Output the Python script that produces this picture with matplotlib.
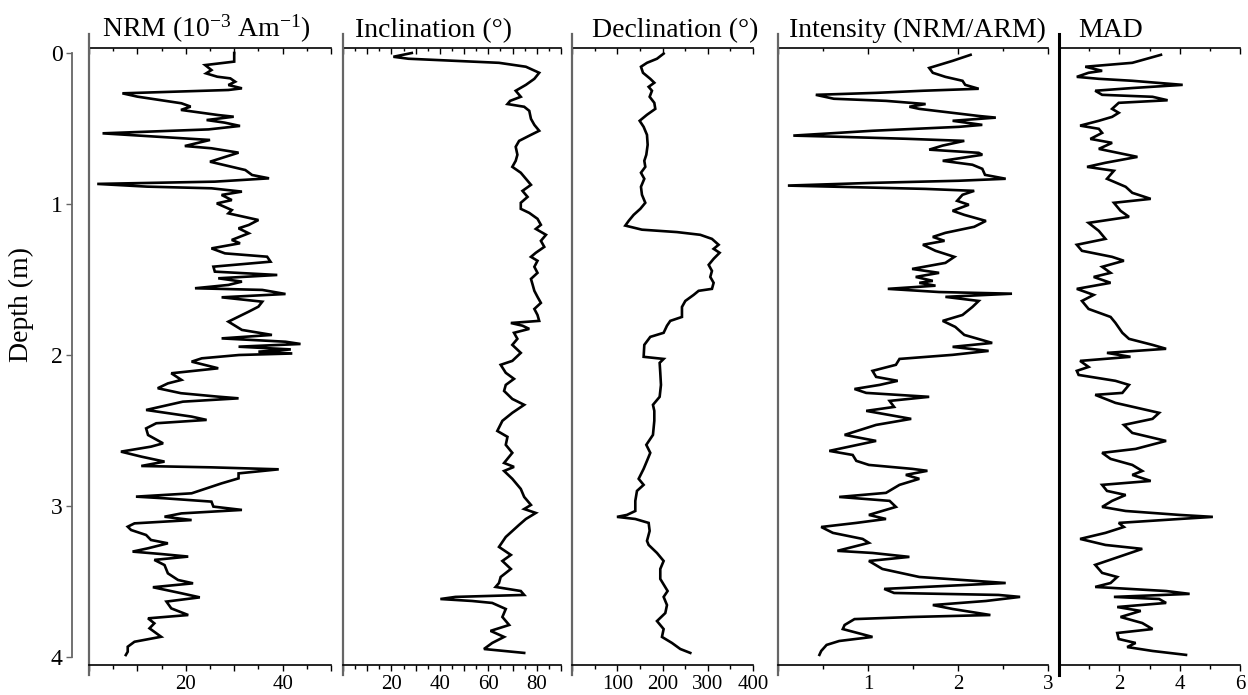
import matplotlib
matplotlib.use('Agg')
import matplotlib.pyplot as plt
from matplotlib.ticker import MultipleLocator

plt.rcParams['font.family'] = 'Liberation Serif'
plt.rcParams['mathtext.fontset'] = 'custom'
plt.rcParams['mathtext.rm'] = 'Liberation Serif'
plt.rcParams['mathtext.it'] = 'Liberation Serif:italic'

# ---- data (depth in m) ----
nrm_depth = [0.0, 0.057, 0.08, 0.113, 0.135, 0.157, 0.168, 0.19, 0.212, 0.234, 0.245, 0.267, 0.289,
             0.333, 0.355, 0.377, 0.411, 0.422, 0.444, 0.461, 0.483, 0.506, 0.532, 0.55, 0.576,
             0.616, 0.631, 0.66, 0.72, 0.775, 0.808, 0.83, 0.852, 0.867, 0.885, 0.896, 0.918,
             0.94, 0.974, 0.996, 1.04, 1.062, 1.106, 1.139, 1.161, 1.194, 1.238, 1.26, 1.294,
             1.327, 1.349, 1.382, 1.415, 1.448, 1.47, 1.492, 1.514, 1.536, 1.558, 1.569, 1.596,
             1.618, 1.647, 1.68, 1.713, 1.779, 1.834, 1.867, 1.89, 1.912, 1.927, 1.945, 1.963,
             1.978, 1.99, 2.0, 2.022, 2.044, 2.088, 2.121, 2.165, 2.188, 2.22, 2.253, 2.276,
             2.287, 2.309, 2.364, 2.408, 2.43, 2.452, 2.486, 2.53, 2.585, 2.607, 2.64, 2.673,
             2.706, 2.735, 2.744, 2.757, 2.784, 2.817, 2.85, 2.894, 2.916, 2.938, 2.949, 2.971,
             3.004, 3.026, 3.049, 3.071, 3.093, 3.115, 3.137, 3.159, 3.192, 3.225, 3.247, 3.28,
             3.302, 3.318, 3.335, 3.357, 3.391, 3.446, 3.49, 3.512, 3.538, 3.578, 3.605, 3.633,
             3.678, 3.722, 3.744, 3.777, 3.81, 3.866, 3.899, 3.932, 3.965, 3.987]
nrm = [30, 30, 24, 25.3, 24.2, 26.5, 29.2, 30.2, 28.8, 31.6, 28.8, 6.9, 10,
       19.1, 21, 19, 26.7, 29.9, 24.3, 28, 31.2, 24.7, 2.8, 12, 25,
       19.8, 25.3, 30.9, 25, 32.3, 33.7, 37.2, 26, 1.7, 12, 25.3, 31.6,
       27.4, 29.5, 26.4, 29.5, 28.8, 35, 33, 30.9, 33, 29.5, 31.2, 25.3,
       28.1, 36.8, 37.5, 25.7, 26, 38.9, 26.7, 31.6, 28.8, 21.9, 35.8, 40.6,
       27.4, 35.8, 35, 33, 28.8, 31.6, 37.8, 27.4, 40.6, 43.7, 30.9, 41.7,
       35, 42, 31, 23.3, 21.2, 26.7, 17, 19.1, 16.3, 14.2, 19, 26.7,
       30.9, 19.4, 11.8, 21.2, 24.3, 13.9, 11.8, 12.2, 15.3, 12.8, 6.6, 10.8,
       15.6, 10.8, 25.3, 39.2, 30.9, 30.9, 27.4, 23.3, 21.2, 9.7, 15.6, 25.3,
       25.7, 31.6, 19.1, 15.6, 21.2, 9.4, 8, 8.7, 11.8, 12.8, 16.3, 12.2,
       9, 14.9, 20.5, 13.5, 15.6, 16.3, 18.4, 21.5, 13.2, 19.1, 22.9, 16,
       17, 20.5, 12.2, 13.5, 12.5, 14.9, 9.4, 8, 8, 7.6]

inc_depth = [0.0, 0.025, 0.038, 0.052, 0.065, 0.091, 0.131, 0.171, 0.211, 0.25, 0.29, 0.317, 0.338,
             0.356, 0.383, 0.436, 0.476, 0.515, 0.542, 0.582, 0.621, 0.674, 0.714, 0.754, 0.793,
             0.833, 0.873, 0.913, 0.953, 0.992, 1.032, 1.059, 1.098, 1.138, 1.165, 1.204, 1.244,
             1.284, 1.323, 1.35, 1.376, 1.416, 1.456, 1.496, 1.535, 1.575, 1.615, 1.655, 1.695,
             1.735, 1.774, 1.788, 1.806, 1.827, 1.853, 1.893, 1.933, 1.986, 2.039, 2.065, 2.118,
             2.158, 2.198, 2.238, 2.291, 2.33, 2.383, 2.436, 2.503, 2.542, 2.595, 2.648, 2.715,
             2.741, 2.768, 2.82, 2.887, 2.94, 2.993, 3.02, 3.046, 3.086, 3.125, 3.205, 3.271,
             3.324, 3.364, 3.417, 3.47, 3.51, 3.536, 3.563, 3.589, 3.602, 3.616, 3.629, 3.642,
             3.682, 3.735, 3.788, 3.827, 3.867, 3.907, 3.947, 3.973]
inc = [28.4, 20.8, 27, 46.4, 64.4, 75.5, 81, 79, 75.5, 71.3, 73.4, 69, 67.9,
       74.8, 76.9, 77.6, 79, 81, 77.6, 72.7, 71.3, 72, 71.3, 69.9, 73.4,
       75.5, 77.6, 74.1, 76.2, 73.4, 73.4, 76.9, 80.3, 81.7, 79.6, 83.8, 81.7,
       83.1, 79.6, 77.6, 80.3, 79, 80.3, 77.6, 78.3, 79, 80.3, 81.7, 79,
       80.3, 81, 69.3, 74.1, 76.9, 70.6, 72, 69.9, 73.4, 69.9, 65.1, 67.2,
       70.6, 67.2, 66.5, 69.9, 74.8, 69.9, 65.8, 63.7, 67.9, 67.2, 69.9, 66.5,
       70.6, 66.5, 69.9, 73.4, 74.8, 77.6, 74.8, 79.6, 75.5, 72.7, 67.2, 64.4,
       69.3, 65.8, 69.3, 65.1, 64.4, 63, 73.4, 74.8, 46.4, 40.2, 53.3, 61.6,
       67.2, 65.8, 68.6, 60.9, 66.5, 61.6, 58.2, 74.8]

dec_depth = [0.004, 0.038, 0.065, 0.091, 0.131, 0.171, 0.197, 0.224, 0.25, 0.29, 0.33, 0.37, 0.409,
             0.449, 0.489, 0.542, 0.608, 0.674, 0.714, 0.754, 0.793, 0.833, 0.886, 0.939, 0.992,
             1.032, 1.072, 1.112, 1.143, 1.17, 1.186, 1.204, 1.231, 1.27, 1.297, 1.323, 1.363,
             1.403, 1.443, 1.483, 1.522, 1.562, 1.575, 1.602, 1.642, 1.682, 1.748, 1.774, 1.806,
             1.853, 1.88, 1.933, 2.012, 2.026, 2.052, 2.118, 2.198, 2.277, 2.33, 2.37, 2.436,
             2.529, 2.595, 2.648, 2.701, 2.754, 2.82, 2.86, 2.9, 2.966, 3.033, 3.059, 3.072,
             3.086, 3.112, 3.165, 3.231, 3.258, 3.311, 3.364, 3.417, 3.483, 3.563, 3.602, 3.656,
             3.709, 3.762, 3.815, 3.867, 3.907, 3.947, 3.973]
dec = [202.5, 187.8, 165.7, 152.4, 156.9, 173, 181.9, 169.4, 176.7, 171.6, 181.9, 184.1, 165.7,
       149.5, 158.3, 165.7, 167.2, 164.2, 159.8, 162, 152.4, 159.8, 152.4, 154.6, 162,
       151, 136.2, 125.2, 117.8, 154.6, 232, 283.5, 309.3, 324, 313, 326.2, 313,
       302, 309.3, 305.6, 313, 309.3, 279.8, 268.8, 250.4, 243, 243, 217.2, 209.9,
       202.5, 173, 159.8, 158.3, 202.5, 193.7, 195.1, 196.6, 193.7, 178.9, 181.9, 181.9,
       178.9, 164.2, 173, 165.7, 158.3, 147.3, 158.3, 143.6, 139.9, 139.9, 121.5, 99.4,
       139.9, 169.4, 171.6, 165.7, 169.4, 187.8, 202.5, 195.1, 195.1, 211.3, 202.5, 209.9,
       206.2, 187.8, 202.5, 198.8, 220.9, 239.3, 261.4]

int_depth = [0.012, 0.052, 0.099, 0.131, 0.158, 0.184, 0.211, 0.237, 0.25, 0.264, 0.277, 0.303, 0.317,
             0.338, 0.356, 0.37, 0.401, 0.417, 0.428, 0.449, 0.476, 0.489, 0.515, 0.547, 0.555,
             0.568, 0.582, 0.613, 0.64, 0.661, 0.674, 0.714, 0.74, 0.767, 0.807, 0.833, 0.846,
             0.86, 0.878, 0.886, 0.9, 0.913, 0.939, 0.979, 1.005, 1.045, 1.072, 1.112, 1.151,
             1.191, 1.218, 1.244, 1.27, 1.31, 1.35, 1.39, 1.43, 1.456, 1.483, 1.509, 1.522,
             1.541, 1.562, 1.583, 1.594, 1.615, 1.642, 1.682, 1.735, 1.774, 1.814, 1.867, 1.92,
             1.946, 1.973, 1.999, 2.026, 2.065, 2.105, 2.145, 2.171, 2.198, 2.225, 2.251, 2.277,
             2.304, 2.344, 2.37, 2.423, 2.463, 2.529, 2.569, 2.635, 2.662, 2.701, 2.728, 2.754,
             2.767, 2.794, 2.82, 2.86, 2.913, 2.94, 2.966, 3.006, 3.059, 3.086, 3.112, 3.139,
             3.178, 3.218, 3.244, 3.297, 3.311, 3.337, 3.364, 3.417, 3.47, 3.51, 3.523, 3.549,
             3.576, 3.589, 3.602, 3.629, 3.656, 3.682, 3.722, 3.735, 3.749, 3.788, 3.815, 3.867,
             3.894, 3.92, 3.96, 3.986]
intensity = [2.14, 1.94, 1.68, 1.72, 1.86, 2.05, 2.08, 2.23, 1.61, 1.09, 0.42, 0.62, 1.2,
             1.64, 1.46, 1.57, 2.01, 2.23, 2.42, 1.94, 2.27, 2.01, 1.05, 0.17, 0.68,
             1.42, 2.07, 1.83, 1.68, 2.23, 2.27, 1.83, 2.16, 2.27, 2.3, 2.53, 2.01,
             1.05, 0.11, 0.68, 1.64, 2.18, 2.05, 1.99, 2.12, 1.94, 2.07, 2.31, 2.18,
             1.86, 1.72, 1.85, 1.61, 1.75, 1.96, 1.86, 1.49, 1.79, 1.53, 1.72, 1.57,
             1.75, 1.22, 1.79, 2.6, 1.86, 2.23, 2.16, 2.05, 1.83, 1.97, 2.07, 2.38,
             1.94, 2.34, 1.94, 1.35, 1.31, 1.05, 1.09, 1.33, 1.13, 0.85, 0.98, 1.68,
             1.24, 1.29, 0.98, 1.48, 1.09, 0.74, 1.09, 0.57, 0.83, 0.87, 1.01, 1.49,
             1.66, 1.42, 1.57, 1.35, 1.2, 0.68, 1.24, 1.31, 1.01, 1.2, 0.87, 0.48,
             0.61, 0.94, 1.01, 0.66, 1.05, 1.46, 1.01, 1.16, 1.57, 2.53, 2.08, 1.18,
             1.29, 2.45, 2.69, 2.31, 1.72, 1.94, 2.36, 1.49, 0.85, 0.74, 0.72, 1.05,
             0.68, 0.54, 0.48, 0.46]

mad_depth = [0.012, 0.065, 0.091, 0.118, 0.131, 0.158, 0.171, 0.184, 0.211, 0.232, 0.25, 0.277, 0.29,
             0.313, 0.33, 0.37, 0.396, 0.423, 0.449, 0.481, 0.502, 0.529, 0.569, 0.595, 0.635,
             0.688, 0.727, 0.754, 0.78, 0.833, 0.886, 0.926, 0.966, 0.992, 1.045, 1.085, 1.125,
             1.178, 1.231, 1.27, 1.31, 1.35, 1.376, 1.416, 1.456, 1.483, 1.522, 1.562, 1.602,
             1.642, 1.695, 1.748, 1.787, 1.853, 1.893, 1.933, 1.959, 1.986, 2.012, 2.039, 2.079,
             2.105, 2.132, 2.171, 2.198, 2.251, 2.264, 2.317, 2.383, 2.423, 2.463, 2.516, 2.569,
             2.622, 2.648, 2.688, 2.728, 2.768, 2.794, 2.834, 2.86, 2.9, 2.927, 2.966, 3.006,
             3.033, 3.059, 3.072, 3.086, 3.112, 3.139, 3.178, 3.218, 3.258, 3.284, 3.337, 3.39,
             3.443, 3.47, 3.51, 3.536, 3.563, 3.582, 3.602, 3.616, 3.642, 3.669, 3.695, 3.735,
             3.775, 3.815, 3.841, 3.881, 3.907, 3.934, 3.96, 3.986]
mad = [3.38, 2.43, 0.87, 1.43, 0.98, 0.59, 1.32, 2.43, 4.1, 2.43, 1.2, 1.43, 3.1,
       3.6, 1.98, 1.76, 1.98, 1.76, 1.32, 0.7, 1.32, 1.43, 1.04, 1.76, 1.32,
       2.6, 1.54, 0.93, 1.82, 1.59, 2.21, 2.43, 3.04, 1.82, 2.04, 2.32, 0.98,
       1.32, 1.54, 0.59, 0.76, 1.76, 2.15, 1.43, 1.71, 1.15, 1.71, 0.59, 1.15,
       0.76, 0.98, 1.71, 1.87, 2.1, 2.32, 3.1, 3.55, 1.59, 2.37, 0.7, 0.98,
       0.59, 0.65, 1.87, 2.32, 2.1, 1.2, 1.87, 3.32, 3.1, 2.15, 2.43, 3.55,
       2.54, 1.43, 1.71, 2.43, 2.76, 2.43, 3.04, 1.43, 1.59, 2.21, 1.76, 1.43,
       2.21, 3.99, 5.1, 3.99, 1.98, 2.15, 1.54, 0.7, 1.54, 2.76, 1.98, 1.2,
       1.43, 1.93, 1.71, 1.2, 3.55, 4.33, 1.82, 3.32, 3.55, 1.93, 2.71, 2.04,
       2.76, 3.1, 1.93, 1.98, 2.54, 2.26, 3.1, 4.21]

titles = [r'NRM (10$^{-3}$ Am$^{-1}$)', 'Inclination (°)', 'Declination (°)',
          'Intensity (NRM/ARM)', 'MAD']
xlims = [(0, 50), (0, 90), (0, 400), (0, 3), (0, 6)]
major_steps = [10, 10, 100, 1, 2]
minor_steps = [5, 5, 50, 0.5, 1]
xtick_labels = [['', '', '20', '', '40', ''],
                ['', '', '20', '', '40', '', '60', '', '80', ''],
                ['', '100', '200', '300', '400'],
                ['', '1', '2', '3'],
                ['', '2', '4', '6']]
depth_ticks = [0, 1, 2, 3, 4]

W, H = 1248, 695
fig = plt.figure(figsize=(W / 100, H / 100), dpi=100)

# panel extents in pixels (left, right), shared top/bottom
panel_px = [(89, 331), (343, 561), (572, 753), (778, 1048), (1059, 1240)]
title_px = [102, 355, 592, 789, 1078]
top_px, bot_px = 48, 665
ylim = ((bot_px - 53) / 151.0, (top_px - 53) / 151.0)

series = [(nrm_depth, nrm), (inc_depth, inc), (dec_depth, dec),
          (int_depth, intensity), (mad_depth, mad)]

axes = []
for i, ((x0, x1), (dep, val)) in enumerate(zip(panel_px, series)):
    rect = [x0 / W, 1 - bot_px / H, (x1 - x0) / W, (bot_px - top_px) / H]
    ax = fig.add_axes(rect, sharey=axes[0] if axes else None)
    ax.plot(val, dep, color='black', lw=1.9, solid_joinstyle='miter')
    ax.set_xlim(*xlims[i])
    ax.set_ylim(*ylim)
    lo, hi = xlims[i]
    n = int(round((hi - lo) / major_steps[i]))
    ticks = [lo + k * major_steps[i] for k in range(n + 1)]
    ax.set_xticks(ticks, labels=xtick_labels[i])
    ax.xaxis.set_minor_locator(MultipleLocator(minor_steps[i]))
    ax.tick_params(axis='x', which='major', direction='out', length=4.5, width=1,
                   labelsize=15, pad=3)
    ax.tick_params(axis='x', which='minor', direction='out', length=3, width=1)
    ax.tick_params(axis='y', left=False, labelleft=False)
    ax.spines['right'].set_visible(False)
    ax.spines['top'].set_visible(False)
    ax.spines['bottom'].set_linewidth(1.2)
    if i == 4:
        ax.spines['left'].set_color('black')
        ax.spines['left'].set_linewidth(2.2)
    else:
        ax.spines['left'].set_color('#666666')
        ax.spines['left'].set_linewidth(1.6)
    ax.spines['left'].set_bounds(4.12, -0.125)

    sec = ax.secondary_xaxis('top')
    sec.set_xticks(ticks)
    sec.xaxis.set_minor_locator(MultipleLocator(minor_steps[i]))
    sec.tick_params(axis='x', which='major', direction='in', length=4, width=1, labeltop=False)
    sec.tick_params(axis='x', which='minor', direction='in', length=2.5, width=1)
    sec.spines['top'].set_linewidth(1.2)

    fig.text(title_px[i] / W, 1 - 37 / H, titles[i], fontsize=20, ha='left', va='baseline')
    axes.append(ax)

# separate depth axis on the left
axd = fig.add_axes(axes[0].get_position(), sharey=axes[0])
axd.patch.set_visible(False)
for s in ['top', 'right', 'bottom']:
    axd.spines[s].set_visible(False)
axd.spines['left'].set_position(('outward', 12))
axd.spines['left'].set_bounds(0, 4)
axd.spines['left'].set_color('#666666')
axd.spines['left'].set_linewidth(1.3)
axd.set_xticks([])
axd.set_yticks(depth_ticks)
axd.tick_params(axis='y', length=4, width=1, labelsize=17, pad=3, color='#666666')
axd.set_ylim(*ylim)

fig.text(21 / W, 1 - 305 / H, 'Depth (m)', rotation=90, fontsize=20, ha='center', va='center')

fig.savefig('out.png', dpi=100)
